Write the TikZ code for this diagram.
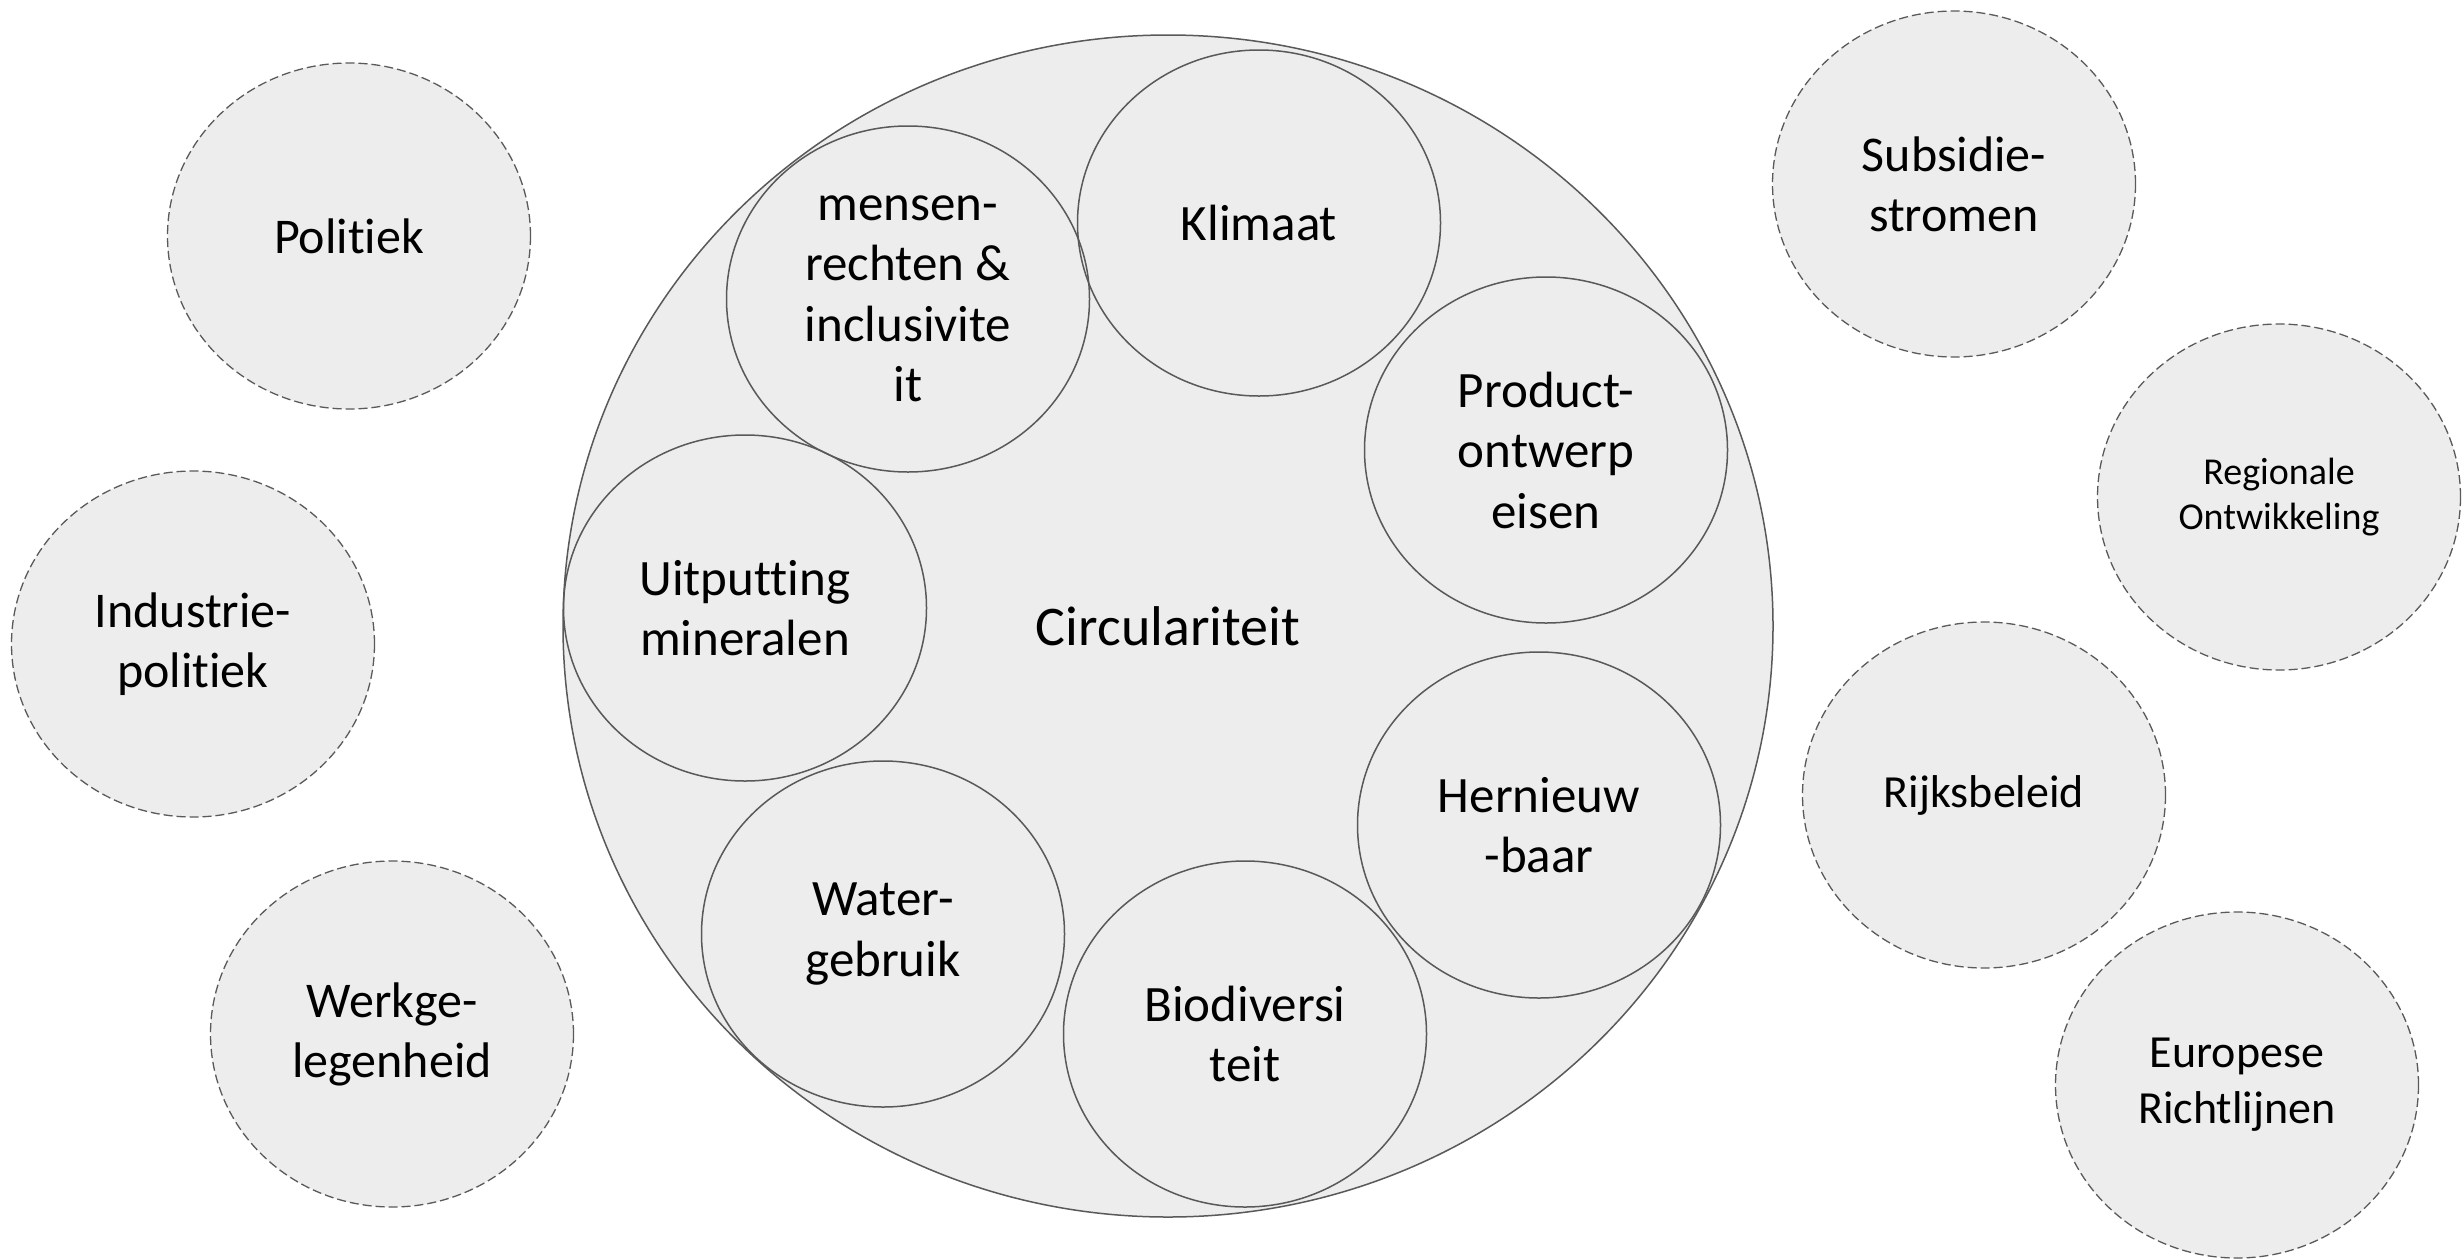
\documentclass[tikz,border=0pt]{standalone}
\usepackage{fontspec}
\setmainfont{Carlito}[Ligatures=NoCommon]
\usetikzlibrary{shapes.geometric,backgrounds}
\definecolor{bgc}{RGB}{237,237,237}
\definecolor{solidc}{RGB}{89,89,89}
\definecolor{dashc}{RGB}{90,90,90}
\tikzset{
  bigcirc/.style={ellipse, draw=solidc, fill=bgc, line width=1.5pt, minimum width=1210pt, minimum height=1182pt, inner sep=0pt, font=\fontsize{56pt}{67pt}\selectfont},
  innercirc/.style={ellipse, draw=solidc, line width=1.5pt, minimum width=363pt, minimum height=346pt, inner sep=0pt, align=center, font=\fontsize{51pt}{60.5pt}\selectfont},
  outercirc/.style={ellipse, draw=dashc, fill=bgc, line width=1.3pt, dash pattern=on 9pt off 4pt, minimum width=363pt, minimum height=346pt, inner sep=0pt, align=center, font=\fontsize{50pt}{60pt}\selectfont},
}
\begin{document}
\begin{tikzpicture}[x=1pt,y=-1pt]
\useasboundingbox (0,0) rectangle (2464,1259);
\fill[white] (0,0) rectangle (2464,1259);
% outer dashed ellipses
\node[outercirc] (pol) at (349,236) {Politiek};
\node[outercirc] (ind) at (193,644) {Industrie-\\politiek};
\node[outercirc] (wer) at (392,1034) {Werkge-\\legenheid};
\node[outercirc] (sub) at (1954,184) {Subsidie-\\stromen};
\node[outercirc, font=\fontsize{38pt}{45.8pt}\selectfont] (reg) at (2279,497) {Regionale\\Ontwikkeling};
\node[outercirc, font=\fontsize{46pt}{56pt}\selectfont] (rijk) at (1984,795) {Rijksbeleid};
\node[outercirc, font=\fontsize{46pt}{56pt}\selectfont] (eur) at (2237,1085) {Europese\\Richtlijnen};
% big circle
\node[bigcirc] (circ) at (1168,626) {Circulariteit};
% inner circles
\node[innercirc] (men) at (908,299) {mensen-\\rechten \&\\inclusivite\\it};
\node[innercirc] (kli) at (1259,223) {Klimaat};
\node[innercirc] (pro) at (1546,450) {Product-\\ontwerp\\eisen};
\node[innercirc] (uit) at (745,608) {Uitputting\\mineralen};
\node[innercirc] (her) at (1539,825) {Hernieuw\\-baar};
\node[innercirc] (wat) at (883,934) {Water-\\gebruik};
\node[innercirc] (bio) at (1245,1034) {Biodiversi\\teit};
\begin{scope}[on background layer]
\foreach \n in {men,kli,pro,uit,her,wat,bio}
  \fill[bgc] (\n.center) ellipse [x radius=181.5pt, y radius=173pt];
\end{scope}
\end{tikzpicture}
\end{document}
